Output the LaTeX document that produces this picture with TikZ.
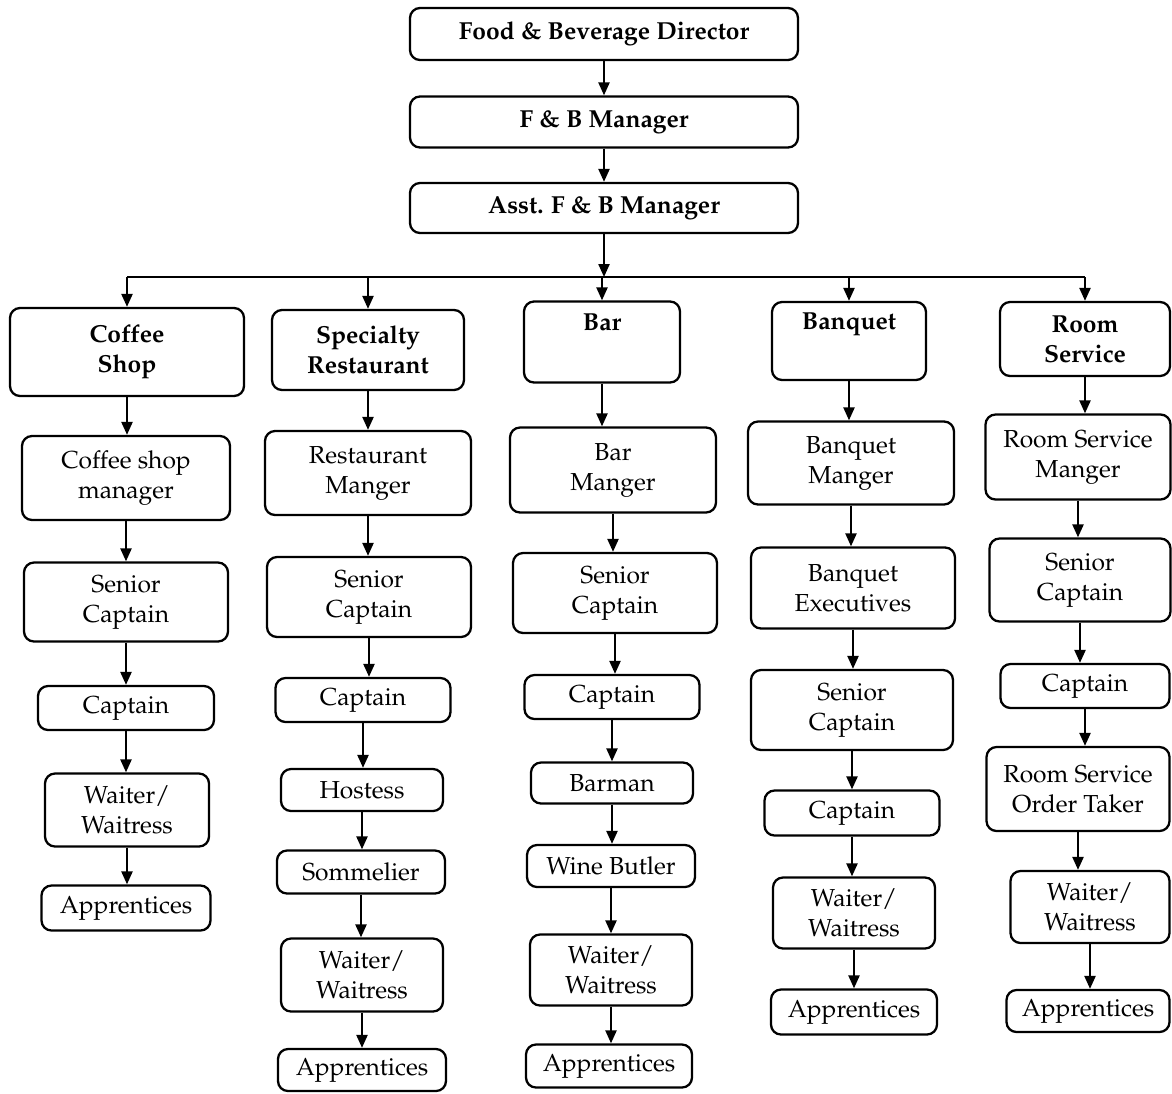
\documentclass[tikz,border=0pt]{standalone}
\usepackage[T1]{fontenc}
\renewcommand{\rmdefault}{ppl}
\usetikzlibrary{arrows.meta,positioning}

\begin{document}
\begin{tikzpicture}[x=0.02cm, y=-0.02cm,
  box/.style={draw, line width=1.3pt, rounded corners=2mm, align=center, inner sep=0pt,
    font=\fontsize{14}{17}\selectfont},
  head/.style={box, font=\fontsize{14}{17}\selectfont\bfseries},
  sz/.style 2 args={minimum width=#1*0.02cm, minimum height=#2*0.02cm},
  arr/.style={line width=1.3pt, -{Triangle[length=2.6mm,width=2.2mm]}}]
\useasboundingbox (0,0) rectangle (1172,1093);

% top of the chart
\node[head, sz={388}{52}] (dir) at (604,34) {Food \& Beverage Director};
\node[head, sz={388}{51}] (fbm) at (604,122) {F \& B Manager};
\node[head, sz={388}{50}] (asst) at (604,208) {Asst. F \& B Manager};
\coordinate (bus) at (604,277);

% outlets
\node[head, sz={234}{88}] (cs) at (127,352) {Coffee\\Shop};
\node[head, sz={192}{80}] (sr) at (368,350) {Specialty\\Restaurant};
\node[head, sz={156}{81}] (bar) at (602,342) {Bar\\\strut};
\node[head, sz={154}{78}] (banq) at (849,341) {Banquet\\\strut};
\node[head, sz={170}{74}] (rs) at (1085,339) {Room\\Service};

% coffee shop
\node[box, sz={208}{84}] (c1) at (126,478) {Coffee shop\\manager};
\node[box, sz={204}{79}] (c2) at (126,602) {Senior\\Captain};
\node[box, sz={176}{44}] (c3) at (126,708) {Captain};
\node[box, sz={164}{73}] (c4) at (127,810) {Waiter/\\Waitress};
\node[box, sz={169}{45}] (c5) at (126,908) {Apprentices};

% specialty restaurant
\node[box, sz={206}{84}] (r1) at (368,473) {Restaurant\\Manger};
\node[box, sz={204}{80}] (r2) at (369,597) {Senior\\Captain};
\node[box, sz={175}{44}] (r3) at (363,700) {Captain};
\node[box, sz={162}{42}] (r4) at (362,790) {Hostess};
\node[box, sz={168}{43}] (r5) at (361,872) {Sommelier};
\node[box, sz={162}{73}] (r6) at (362,975) {Waiter/\\Waitress};
\node[box, sz={168}{42}] (r7) at (362,1070) {Apprentices};

% bar
\node[box, sz={206}{85}] (b1) at (613,470) {Bar\\Manger};
\node[box, sz={204}{80}] (b2) at (615,593) {Senior\\Captain};
\node[box, sz={175}{44}] (b3) at (612,697) {Captain};
\node[box, sz={162}{41}] (b4) at (612,783) {Barman};
\node[box, sz={168}{42}] (b5) at (611,866) {Wine Butler};
\node[box, sz={162}{71}] (b6) at (611,970) {Waiter/\\Waitress};
\node[box, sz={166}{43}] (b7) at (609,1066) {Apprentices};

% banquet
\node[box, sz={206}{83}] (q1) at (851,463) {Banquet\\Manger};
\node[box, sz={204}{81}] (q2) at (853,588) {Banquet\\Executives};
\node[box, sz={202}{80}] (q3) at (852,710) {Senior\\Captain};
\node[box, sz={175}{45}] (q4) at (852,813) {Captain};
\node[box, sz={162}{71}] (q5) at (854,913) {Waiter/\\Waitress};
\node[box, sz={166}{45}] (q6) at (854,1012) {Apprentices};

% room service
\node[box, sz={185}{85}] (m1) at (1078,457) {Room Service\\Manger};
\node[box, sz={181}{83}] (m2) at (1080,580) {Senior\\Captain};
\node[box, sz={169}{44}] (m3) at (1085,686) {Captain};
\node[box, sz={183}{84}] (m4) at (1078,789) {Room Service\\Order Taker};
\node[box, sz={159}{72}] (m5) at (1090,907) {Waiter/\\Waitress};
\node[box, sz={163}{42}] (m6) at (1088,1011) {Apprentices};

% connectors
\draw[arr] (dir) -- (fbm);
\draw[arr] (fbm) -- (asst);
\draw[arr] (asst) -- (bus);
\draw[line width=1.3pt] (cs.north |- bus) -- (rs.north |- bus);
\foreach \h in {cs,sr,bar,banq,rs}
  \draw[arr] (\h.north |- bus) -- (\h.north);
\foreach \a/\b in {cs/c1,c1/c2,c2/c3,c3/c4,c4/c5,
                   sr/r1,r1/r2,r2/r3,r3/r4,r4/r5,r5/r6,r6/r7,
                   bar/b1,b1/b2,b2/b3,b3/b4,b4/b5,b5/b6,b6/b7,
                   banq/q1,q1/q2,q2/q3,q3/q4,q4/q5,q5/q6,
                   rs/m1,m1/m2,m2/m3,m3/m4,m4/m5,m5/m6}
  \draw[arr] (\a.south) -- (\a.south |- \b.north);
\end{tikzpicture}
\end{document}
